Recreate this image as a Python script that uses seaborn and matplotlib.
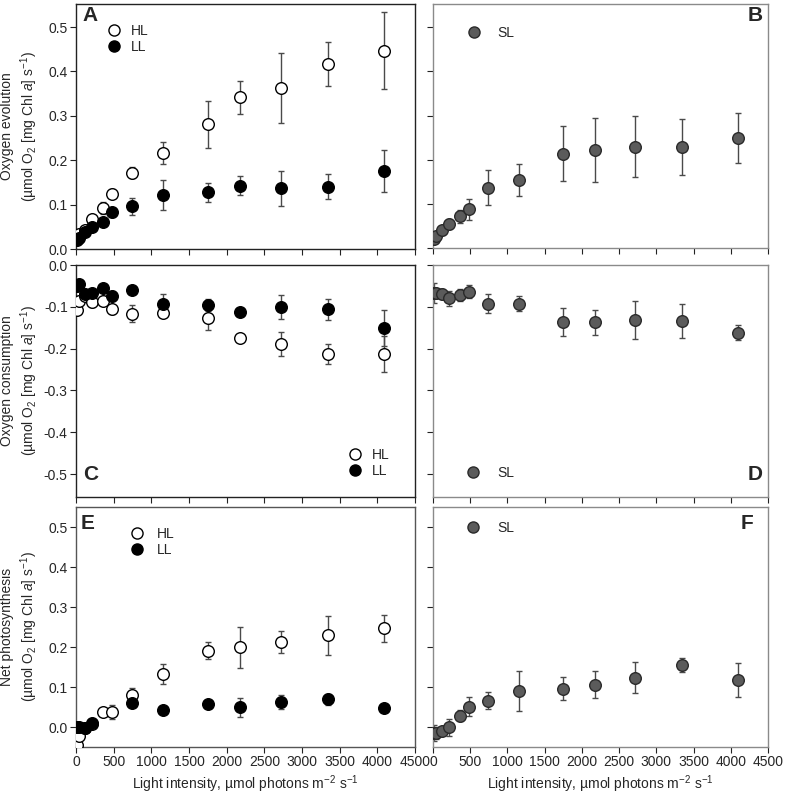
import numpy as np
import matplotlib
matplotlib.use("Agg")
import matplotlib.pyplot as plt
from matplotlib.lines import Line2D
import seaborn as sns

# ---------- DATA ----------
light = [20, 45, 120, 210, 365, 480, 740, 1150, 1750, 2180, 2715, 3340, 4090]

# A / B: oxygen evolution
evo_hl = [0.030, 0.034, 0.042, 0.068, 0.093, 0.125, 0.172, 0.217, 0.281, 0.342, 0.362, 0.417, 0.447]
evo_hl_err = [0.004, 0.004, 0.005, 0.006, 0.013, 0.010, 0.012, 0.025, 0.053, 0.037, 0.079, 0.050, 0.086]
evo_ll = [0.020, 0.025, 0.038, 0.049, 0.062, 0.083, 0.096, 0.122, 0.128, 0.143, 0.137, 0.141, 0.176]
evo_ll_err = [0.004, 0.004, 0.005, 0.006, 0.006, 0.010, 0.020, 0.034, 0.021, 0.021, 0.040, 0.029, 0.047]
evo_sl = [0.022, 0.027, 0.041, 0.055, 0.072, 0.088, 0.137, 0.154, 0.214, 0.222, 0.229, 0.229, 0.249]
evo_sl_err = [0.005, 0.006, 0.010, 0.012, 0.015, 0.024, 0.040, 0.036, 0.062, 0.072, 0.069, 0.063, 0.057]

# C / D: oxygen consumption
con_hl = [-0.107, -0.087, -0.074, -0.089, -0.085, -0.106, -0.116, -0.114, -0.126, -0.174, -0.189, -0.213, -0.213]
con_hl_err = [0.008, 0.012, 0.008, 0.012, 0.010, 0.010, 0.021, 0.011, 0.030, 0.009, 0.028, 0.023, 0.044]
con_ll = [-0.049, -0.045, -0.070, -0.068, -0.056, -0.074, -0.060, -0.094, -0.096, -0.112, -0.100, -0.106, -0.150]
con_ll_err = [0.012, 0.008, 0.008, 0.008, 0.006, 0.012, 0.006, 0.025, 0.015, 0.007, 0.028, 0.025, 0.043]
con_sl = [-0.066, -0.068, -0.070, -0.080, -0.072, -0.064, -0.092, -0.092, -0.136, -0.137, -0.131, -0.133, -0.162]
con_sl_err = [0.024, 0.010, 0.012, 0.017, 0.014, 0.016, 0.023, 0.017, 0.033, 0.030, 0.045, 0.041, 0.018]

# E / F: net photosynthesis
net_hl = [-0.044, -0.023, -0.003, 0.007, 0.037, 0.037, 0.079, 0.132, 0.191, 0.199, 0.212, 0.229, 0.247]
net_hl_err = [0.004, 0.005, 0.005, 0.008, 0.008, 0.017, 0.018, 0.025, 0.022, 0.052, 0.027, 0.048, 0.034]
net_ll = [0.000, 0.000, -0.003, 0.010, np.nan, np.nan, 0.059, 0.043, 0.057, 0.049, 0.063, 0.069, 0.048]
net_ll_err = [0.004, 0.004, 0.004, 0.006, np.nan, np.nan, 0.006, 0.004, 0.005, 0.023, 0.018, 0.013, 0.004]
net_sl = [-0.016, -0.014, -0.010, -0.001, 0.028, 0.051, 0.066, 0.091, 0.096, 0.106, 0.123, 0.155, 0.118]
net_sl_err = [0.020, 0.015, 0.008, 0.021, 0.014, 0.024, 0.022, 0.050, 0.028, 0.033, 0.039, 0.018, 0.042]

x_ticks = [0, 500, 1000, 1500, 2000, 2500, 3000, 3500, 4000, 4500]
y_ticks_pos = [0.0, 0.1, 0.2, 0.3, 0.4, 0.5]
y_ticks_neg = [0.0, -0.1, -0.2, -0.3, -0.4, -0.5]
# --------------------------

sns.set_style("ticks")
plt.rcParams["font.family"] = ["Liberation Sans", "DejaVu Sans"]
plt.rcParams["mathtext.fontset"] = "custom"
plt.rcParams["mathtext.rm"] = "Liberation Sans"
plt.rcParams["mathtext.it"] = "Liberation Sans:italic"
plt.rcParams["mathtext.default"] = "regular"
plt.rcParams["font.size"] = 10

STYLES = {
    "HL": dict(face="white", edge="black"),
    "LL": dict(face="black", edge="black"),
    "SL": dict(face="#5b5b5b", edge="#2a2a2a"),
}
ERR_COLOR = "#4a4a4a"


def draw_series(ax, y, err, name):
    st = STYLES[name]
    ax.errorbar(light, y, yerr=err, fmt="none", ecolor=ERR_COLOR,
                elinewidth=1.0, capsize=2.4, capthick=1.0, zorder=2)
    sns.scatterplot(x=light, y=y, ax=ax, color=st["face"], edgecolor=st["edge"],
                    linewidth=1.0, s=70, zorder=3, legend=False)


def add_legend(ax, names, anchor, pad):
    handles = [Line2D([], [], ls="none", marker="o", markersize=8,
                      markerfacecolor=STYLES[n]["face"],
                      markeredgecolor=STYLES[n]["edge"]) for n in names]
    ax.legend(handles, names, loc="center left", bbox_to_anchor=anchor,
              frameon=False, handlelength=1.0, handletextpad=pad,
              labelspacing=0.15, borderpad=0, borderaxespad=0, fontsize=10)


def style_axes(ax, ylim, yticks, spine_color, show_xlabels, show_ylabels):
    ax.set_xlim(0, 4500)
    ax.set_ylim(*ylim)
    ax.set_xticks(x_ticks)
    ax.set_yticks(yticks)
    for s in ax.spines.values():
        s.set_visible(True)
        s.set_color(spine_color)
        s.set_linewidth(1.0)
    ax.tick_params(direction="out", length=4, width=0.8, color="#222222",
                   labelsize=10, pad=2)
    if show_xlabels:
        ax.set_xticklabels([str(t) for t in x_ticks])
        ax.set_xlabel("Light intensity, µmol photons m$^{-2}$ s$^{-1}$",
                      fontsize=10, labelpad=3)
    else:
        ax.set_xticklabels([])
    if show_ylabels:
        ax.set_yticklabels([f"{t:.1f}" for t in yticks])
    else:
        ax.set_yticklabels([])


def main():
    fig = plt.figure(figsize=(7.85, 8.01), dpi=100)

    lw_, rw_ = 0.0968, 0.5516
    w_l, w_r = 0.432, 0.4268
    ax_a = fig.add_axes([lw_, 0.689, w_l, 0.306])
    ax_b = fig.add_axes([rw_, 0.690, w_r, 0.305])
    ax_c = fig.add_axes([lw_, 0.3795, w_l, 0.2896])
    ax_d = fig.add_axes([rw_, 0.3795, w_r, 0.2896])
    ax_e = fig.add_axes([lw_, 0.0674, w_l, 0.2996])
    ax_f = fig.add_axes([rw_, 0.0674, w_r, 0.2996])

    # A
    draw_series(ax_a, evo_hl, evo_hl_err, "HL")
    draw_series(ax_a, evo_ll, evo_ll_err, "LL")
    style_axes(ax_a, (0, 0.552), y_ticks_pos, "#222222", False, True)
    add_legend(ax_a, ["HL", "LL"], (0.091, 0.857), 0.7)

    # B
    draw_series(ax_b, evo_sl, evo_sl_err, "SL")
    style_axes(ax_b, (0, 0.552), y_ticks_pos, "#8a8a8a", False, False)
    add_legend(ax_b, ["SL"], (0.101, 0.88), 1.2)

    # C
    draw_series(ax_c, con_hl, con_hl_err, "HL")
    draw_series(ax_c, con_ll, con_ll_err, "LL")
    style_axes(ax_c, (-0.555, 0), y_ticks_neg, "#222222", False, True)
    add_legend(ax_c, ["HL", "LL"], (0.802, 0.147), 0.7)

    # D
    draw_series(ax_d, con_sl, con_sl_err, "SL")
    style_axes(ax_d, (-0.555, 0), y_ticks_neg, "#8a8a8a", False, False)
    add_legend(ax_d, ["SL"], (0.10, 0.103), 1.2)

    # E
    draw_series(ax_e, net_hl, net_hl_err, "HL")
    draw_series(ax_e, net_ll, net_ll_err, "LL")
    style_axes(ax_e, (-0.05, 0.55), y_ticks_pos, "#555555", True, True)
    add_legend(ax_e, ["HL", "LL"], (0.159, 0.856), 0.95)

    # F
    draw_series(ax_f, net_sl, net_sl_err, "SL")
    style_axes(ax_f, (-0.05, 0.55), y_ticks_pos, "#8a8a8a", True, False)
    add_legend(ax_f, ["SL"], (0.10, 0.9125), 1.2)

    # y labels (two lines, right edge just left of the tick labels)
    ylabels = {
        ax_a: "Oxygen evolution",
        ax_c: "Oxygen consumption",
        ax_e: "Net photosynthesis",
    }
    for ax, first in ylabels.items():
        ax.set_ylabel(first + "\n(µmol O$_2$ [mg Chl $\\mathit{a}$] s$^{-1}$)",
                      fontsize=10, linespacing=1.3)
        ax.yaxis.set_label_coords(-0.106, 0.5)

    # panel letters
    kw = dict(fontsize=15, fontweight="bold")
    ax_a.text(0.02, 0.99, "A", transform=ax_a.transAxes, ha="left", va="top", **kw)
    ax_b.text(0.985, 0.99, "B", transform=ax_b.transAxes, ha="right", va="top", **kw)
    ax_c.text(0.02, 0.055, "C", transform=ax_c.transAxes, ha="left", va="bottom", **kw)
    ax_d.text(0.985, 0.055, "D", transform=ax_d.transAxes, ha="right", va="bottom", **kw)
    ax_e.text(0.015, 0.97, "E", transform=ax_e.transAxes, ha="left", va="top", **kw)
    ax_f.text(0.955, 0.97, "F", transform=ax_f.transAxes, ha="right", va="top", **kw)

    fig.savefig("out.png", dpi=100)
    plt.close(fig)


if __name__ == "__main__":
    main()
